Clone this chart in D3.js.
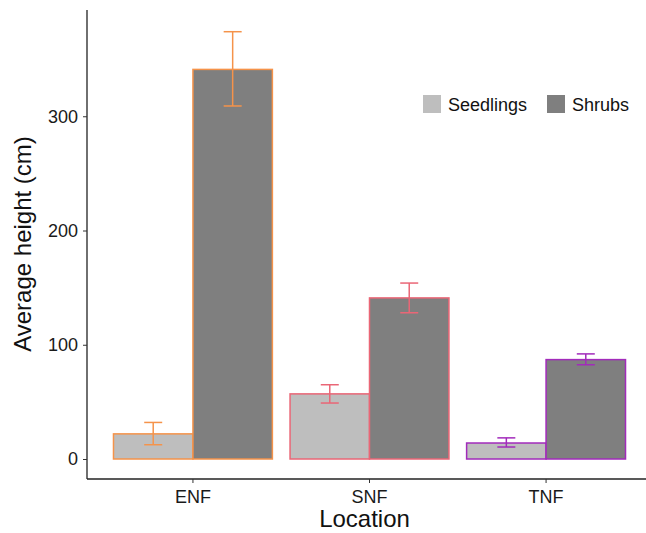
<!DOCTYPE html>
<html>
<head>
<meta charset="utf-8">
<script src="https://cdn.jsdelivr.net/npm/d3@7"></script>
<style>
  body { margin: 0; background: #fff; }
  text { font-family: "Liberation Sans", Arial, Helvetica, sans-serif; }
</style>
</head>
<body>
<svg class="chart"></svg>
<script>
// data
var locations = ["ENF", "SNF", "TNF"];
var series = ["Seedlings", "Shrubs"];
var seedlingMean = [22, 57, 14];
var seedlingLow  = [12.5, 49, 10.5];
var seedlingHigh = [32, 65, 18.5];
var shrubMean = [341, 141, 87];
var shrubLow  = [309, 128, 82.5];
var shrubHigh = [374, 154, 92];
var yTicks = [0, 100, 200, 300];

function show() {

    'use strict';

    var edgeColors = {ENF: "#F5934A", SNF: "#EA6676", TNF: "#A22BBB"};
    var fillColors = {Seedlings: "#BEBEBE", Shrubs: "#7F7F7F"};

    var width = 646, height = 533;
    var plot = {left: 87, right: 652, top: 10, bottom: 479};

    var svg = d3.select(".chart")
        .attr("width", width)
        .attr("height", height);

    // build rows
    var rows = [];
    locations.forEach(function(loc, i) {
        rows.push({loc: loc, s: "Seedlings", v: seedlingMean[i], lo: seedlingLow[i], hi: seedlingHigh[i]});
        rows.push({loc: loc, s: "Shrubs", v: shrubMean[i], lo: shrubLow[i], hi: shrubHigh[i]});
    });

    // scales (ggplot-like: bar group width 0.9, 0.6 expand on each side)
    var x = d3.scaleBand()
        .domain(locations)
        .range([plot.left, plot.right])
        .paddingInner(0.1)
        .paddingOuter(0.15);

    var xs = d3.scaleBand()
        .domain(series)
        .range([0, x.bandwidth()]);

    var y = d3.scaleLinear()
        .domain([-17.5, 393])
        .range([plot.bottom, plot.top]);

    // bars
    svg.selectAll(".bar")
        .data(rows)
        .enter().append("rect")
        .attr("class", "bar")
        .attr("x", function(d) { return x(d.loc) + xs(d.s); })
        .attr("width", xs.bandwidth())
        .attr("y", function(d) { return y(d.v); })
        .attr("height", function(d) { return y(0) - y(d.v); })
        .style("fill", function(d) { return fillColors[d.s]; })
        .style("stroke", function(d) { return edgeColors[d.loc]; })
        .style("stroke-width", 1.5);

    // error bars
    var cap = 9;
    var err = svg.selectAll(".err")
        .data(rows)
        .enter().append("g")
        .attr("class", "err")
        .style("stroke", function(d) { return edgeColors[d.loc]; })
        .style("stroke-width", 1.5)
        .attr("transform", function(d) {
            return "translate(" + (x(d.loc) + xs(d.s) + xs.bandwidth() / 2) + ",0)";
        });

    err.append("line")
        .attr("y1", function(d) { return y(d.lo); })
        .attr("y2", function(d) { return y(d.hi); });
    err.append("line")
        .attr("x1", -cap).attr("x2", cap)
        .attr("y1", function(d) { return y(d.lo); })
        .attr("y2", function(d) { return y(d.lo); });
    err.append("line")
        .attr("x1", -cap).attr("x2", cap)
        .attr("y1", function(d) { return y(d.hi); })
        .attr("y2", function(d) { return y(d.hi); });

    // axes
    var yAxis = svg.append("g")
        .attr("transform", "translate(" + plot.left + ",0)")
        .call(d3.axisLeft(y).tickValues(yTicks).tickSize(4).tickPadding(5));
    yAxis.select(".domain").attr("d", "M0," + plot.top + "V" + plot.bottom);

    var xAxis = svg.append("g")
        .attr("transform", "translate(0," + plot.bottom + ")")
        .call(d3.axisBottom(x).tickSize(4).tickPadding(7));
    xAxis.select(".domain").attr("d", "M" + plot.left + ",0H" + plot.right);

    svg.selectAll(".domain").style("stroke", "#222").style("stroke-width", 1.3);
    svg.selectAll(".tick line").style("stroke", "#333").style("stroke-width", 1);
    svg.selectAll(".tick text")
        .style("font-size", "18px")
        .style("fill", "#1a1a1a")
        .style("font-family", "'Liberation Sans', Arial, sans-serif");

    // axis titles
    svg.append("text")
        .attr("x", (plot.left + plot.right) / 2 - 5)
        .attr("y", 527)
        .attr("text-anchor", "middle")
        .style("font-size", "24px")
        .style("fill", "#111")
        .text("Location");

    svg.append("text")
        .attr("transform", "translate(31,244) rotate(-90)")
        .attr("text-anchor", "middle")
        .style("font-size", "24px")
        .style("fill", "#111")
        .text("Average height (cm)");

    // legend
    var legendX = [423, 547];
    var legend = svg.selectAll(".legend")
        .data(series)
        .enter().append("g")
        .attr("class", "legend")
        .attr("transform", function(d, i) { return "translate(" + legendX[i] + ",95)"; });

    legend.append("rect")
        .attr("width", 18)
        .attr("height", 18)
        .style("fill", function(d) { return fillColors[d]; });

    legend.append("text")
        .attr("x", 25)
        .attr("y", 15.5)
        .style("font-size", "18px")
        .style("fill", "#111")
        .text(function(d) { return d; });
}

show();
</script>
</body>
</html>
